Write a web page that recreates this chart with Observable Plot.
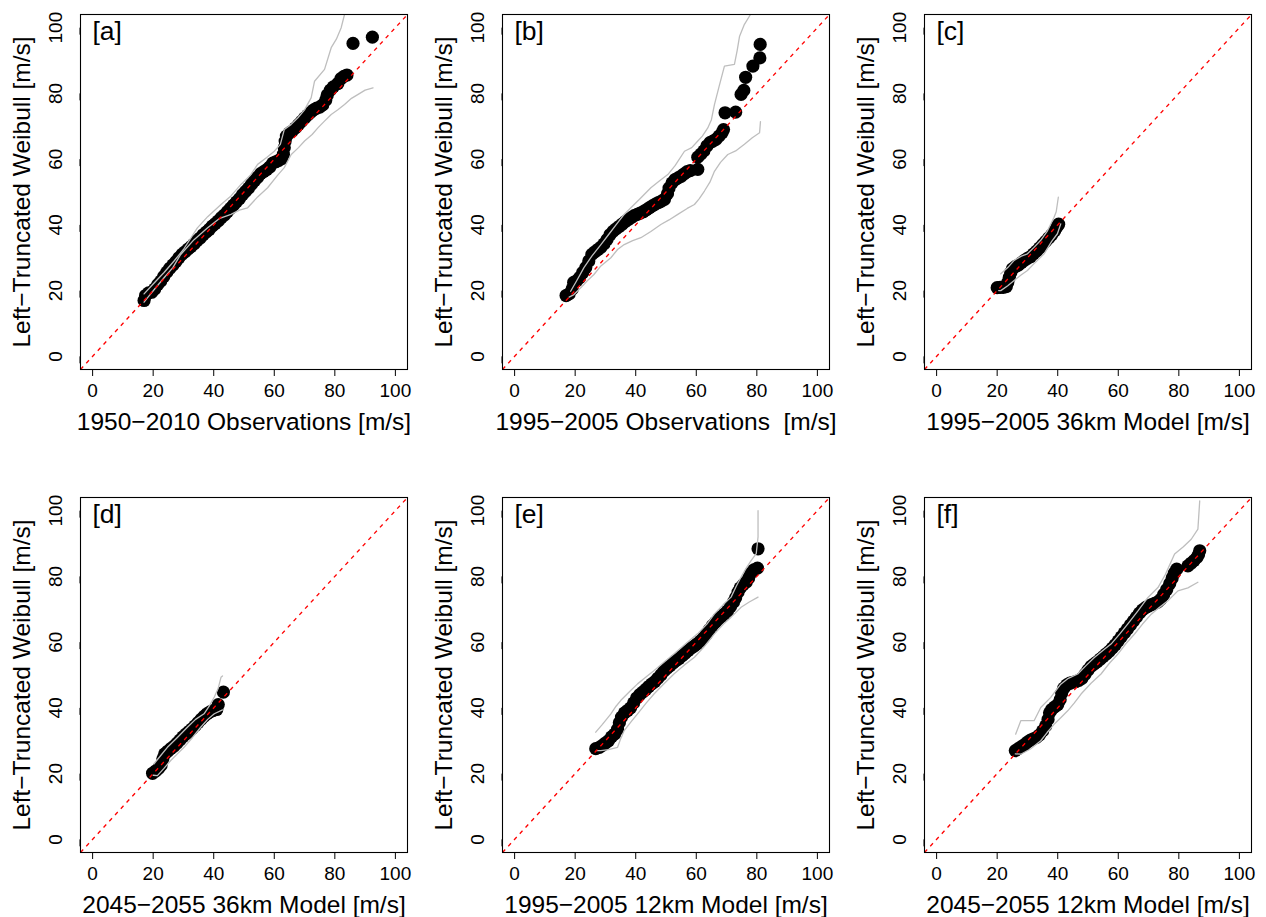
<!DOCTYPE html>
<html><head><meta charset="utf-8">
<script src="https://cdn.jsdelivr.net/npm/d3@7"></script>
<script src="https://cdn.jsdelivr.net/npm/@observablehq/plot@0.6"></script>
<style>
body{margin:0;background:#fff;}
#wrap{position:relative;width:1266px;height:917px;background:#fff;}
.panel{position:absolute;}
</style></head><body><div id="wrap"></div>
<script>
// ---- text ----
const panelLabels = ["[a]", "[b]", "[c]", "[d]", "[e]", "[f]"];
const xTitles = [
  "1950\u22122010 Observations [m/s]",
  "1995\u22122005 Observations  [m/s]",
  "1995\u22122005 36km Model [m/s]",
  "2045\u22122055 36km Model [m/s]",
  "1995\u22122005 12km Model [m/s]",
  "2045\u22122055 12km Model [m/s]"
];
const yTitle = "Left\u2212Truncated Weibull [m/s]";
const tickValues = [0, 20, 40, 60, 80, 100];
const axisDomain = [-4, 104];

// ---- panel a: 1950-2010 observations ----
const aPoints = [[17,17],[17.5,18.5],[18.5,19.3],[19.5,19.5],[20.5,20.5],[21.5,21.8],[22.5,22.9],[23.5,24.3],[24.5,25.6],[25.5,26.8],[26.5,27.8],[27.5,28.8],[28.5,30],[29.5,31],[30.5,31.8],[31.5,32.6],[32.5,33.4],[33.5,34.2],[34.5,35.2],[35.5,36],[36.5,37],[37.5,37.8],[38.5,38.6],[39.5,39.6],[40.5,40.4],[41.5,41.2],[42.5,42.2],[43.5,43],[44.5,44],[45.5,45],[46.5,46],[47.5,47],[48.5,48],[49.5,49.2],[50.5,50.2],[51.5,51.2],[52.5,52.4],[53.5,53.5],[54.5,54.5],[55.5,55.6],[56.5,56.2],[57.5,56.8],[58.5,57.6],[59.5,58.8],[60.5,59.2],[61.5,59.6],[62.5,60.2],[63,61.5],[63.3,63.5],[63.6,65.5],[64,67],[65,68],[66,68.6],[67,69.5],[68,70.5],[69,71.5],[70,72.5],[71,73.4],[72,74.2],[73,75],[74,75.5],[75,75.8],[76,76.5],[77,78],[77.5,79.5],[78.5,81],[79.5,82],[81,83],[82,84.5],[83,85.2],[84,85.6],[86,95.2],[92.4,97.1]];
const aUpper = [[17,19],[20,22],[23.6,25.5],[26.9,29],[30,32.5],[34.6,39.1],[38,42.5],[42.4,46.2],[45.7,48.8],[49,52.3],[52,55],[54.5,58.4],[57.5,60.5],[60,62.4],[62,64.5],[63.3,69],[65.5,70.5],[67.8,72.6],[70,75],[72.2,78.7],[73.3,83.7],[76.6,87.3],[78.8,93.9],[80.5,96.5],[82.1,100],[83.2,104]];
const aLower = [[17,16.5],[18.1,17.8],[20.5,20.5],[23.6,23.9],[26.5,27],[29.1,31],[33.5,35.5],[38,39.1],[42,42],[45.7,43.2],[48.5,44.5],[51.2,45.2],[54.5,48.5],[57.8,51.3],[61,55],[63.3,57.4],[65.6,61.4],[68,63.5],[70,65.5],[72.5,67.5],[74.4,69.5],[76.5,71.5],[78.8,73.6],[81,75],[83.2,76.6],[85.5,78.5],[87.7,79.7],[90,81],[92.6,81.7]];

// ---- panel b: 1995-2005 observations ----
const bPoints = [[17,18.5],[18,19],[19,20.5],[19.5,22.5],[20.5,23],[21.5,24],[22.5,25.5],[23.5,27],[24.5,29],[25.5,31],[26.5,31.8],[27.5,32.5],[28.5,33.2],[29.5,34.2],[30.5,35.5],[31.5,37],[32.5,38],[33.5,38.8],[34.5,39.5],[35.5,40.2],[36.5,41],[37.5,41.6],[38.5,42.2],[39.5,42.8],[40.5,43.2],[41.5,43.6],[42.5,44],[43.5,44.6],[44.5,45.2],[45.5,45.8],[46.5,46.3],[47.5,46.8],[48.5,47.2],[49.5,47.8],[50.5,49.5],[51,51.2],[52,52.8],[53,53.8],[54,54.3],[55,54.8],[56,55.5],[57,56.2],[58,56.5],[60.5,56.9],[60.5,60.6],[61.5,61.5],[62.5,62.5],[63.5,64],[64.5,65],[65.5,65.5],[66.5,66],[67.5,67],[68.5,68],[69,69],[69.5,74.1],[73,74.3],[74.8,79.7],[75.7,80.9],[76.3,84.9],[78.7,88.3],[81,90.8],[81.1,94.9]];
const bUpper = [[18.5,19.8],[20.5,23],[22.9,27],[25.5,30.5],[28.5,34],[31,37],[34,40.6],[36,43],[38.4,45.2],[41.5,48],[45,51.3],[48,53.5],[50.6,55.3],[53,58],[56.1,62.4],[58.5,63.5],[60.5,65.5],[62,67],[63.8,69.5],[65,72],[66,76.6],[67.5,82],[69.3,88.3],[72.6,88.8],[73.5,93],[74.3,97.4],[75.9,101],[77.9,104]];
const bLower = [[18,18],[19.6,18.8],[22,21],[24,23],[26.2,24.9],[28.5,27.5],[31.8,30],[34,32.5],[36.2,34],[39,35.2],[41.7,36.1],[45,38],[48.3,40.1],[51,41.5],[53.9,43.2],[57,45],[59.4,46.2],[61,48],[62.7,50.3],[64.5,53],[66,56.3],[68,59],[70.4,61.4],[73,62.5],[75.9,64.5],[78.5,66.5],[80.9,68],[81.2,71.4]];

// ---- panel c: 1995-2005 36km model ----
const cPoints = [[20,20.9],[21,21],[22,21],[23,21.2],[23.5,22.5],[24,24],[24.5,25.5],[25,26.6],[26,27.3],[27,27.8],[28,28.5],[29,29.2],[30,29.8],[31,30.3],[32,31.2],[33,32],[34,33],[35,34],[36,35],[37,36],[38,37],[39,38.2],[39.8,39.5],[40.3,40.2]];
const cUpper = [[21.2,25.1],[23.5,27],[25.6,29.2],[28,30.5],[30,31.2],[32,33],[34.4,35.3],[36.5,38],[38.8,42.3],[39.5,44],[40.2,48.4]];
const cLower = [[20.5,20],[21.2,20],[23.5,21.5],[25.6,23.1],[28,24.8],[30,26.1],[32.5,28.5],[35.5,31.2],[38,35],[39.9,37.3],[41,40.3]];

// ---- panel d: 2045-2055 36km model ----
const dPoints = [[19.8,20.1],[20.8,20.8],[21.8,21.6],[22.6,22.5],[23.2,24.5],[23.8,26],[24.8,26.8],[25.8,27.6],[26.8,28.3],[27.8,29.2],[28.8,30.2],[29.8,31.2],[30.8,32],[31.8,32.8],[32.8,33.6],[33.8,34.5],[34.8,35.5],[35.8,36.5],[36.8,37.4],[37.8,38.2],[38.8,38.8],[39.8,39.2],[41,39.5],[41.5,41],[43.2,44.8]];
const dUpper = [[20.3,23],[22.5,25.5],[24.7,28],[28,31],[31.3,34.1],[34,36.5],[36.8,38.2],[38.5,40.5],[40.2,43.3],[41.5,46],[42.4,49.3],[42.9,49.7]];
const dLower = [[20,19.5],[21.4,19.4],[23.5,21.5],[25.8,24],[28,26],[30.2,28],[33,31],[35.7,34.1],[38,36.5],[40.2,38.2],[42.9,39.4]];

// ---- panel e: 1995-2005 12km model ----
const ePoints = [[26.8,27.6],[28,28],[29,28.6],[30,29.3],[31,30],[32,31.2],[33,32],[34,33.5],[34.6,35.5],[35.3,37.2],[36.3,38.5],[37.3,39.2],[38.3,40],[39.3,41.5],[40.3,43],[41.3,44],[42.3,44.8],[43.3,45.6],[44.3,46.5],[45.3,47.3],[46.3,48],[47.3,49],[48.3,50],[49.3,51.2],[50.3,52],[51.3,52.8],[52.3,53.6],[53.3,54.4],[54.3,55],[55.3,55.8],[56.3,56.6],[57.3,57.4],[58.3,58.2],[59.3,58.8],[60.3,59.5],[61.3,60.3],[62.3,61.2],[63.3,62.4],[64.3,63.8],[65.3,65],[66.3,66],[67.3,67],[68.3,67.8],[69.3,68.6],[70.3,69.5],[71.3,70.8],[72.3,72.2],[73,73.5],[73.8,75.2],[74.5,76.5],[75.5,77.5],[76.5,78.3],[77.3,79.5],[78,81],[79,82],[80.2,82.5],[80.4,88.4]];
const eUpper = [[26.8,32.6],[29,35],[31.8,38.2],[33.5,40.5],[35.1,42.3],[38,45],[40.6,47.3],[43.5,49.5],[46.1,51.4],[49.5,54],[52.7,56.5],[56.5,59.5],[60.5,62.6],[63.5,65.5],[66,68.6],[69,71.5],[71.5,73.7],[73.2,77],[74.8,79.8],[76.5,82.5],[78.1,84.8],[79.8,86.9],[80.4,92],[80.4,100]];
const eLower = [[27,27],[28.5,27],[31,27.3],[34,28],[35,30.5],[36.2,33.1],[38.5,35.8],[40.6,38.2],[43.5,41.5],[46.1,44.3],[49.5,47.5],[52.7,50.4],[56,53],[59.4,55.4],[62.5,58.5],[66,62.5],[69,65.5],[71.5,67.6],[74.8,70.6],[77.5,72.2],[80.4,73.7]];

// ---- panel f: 2045-2055 12km model ----
const fPoints = [[26,27],[27,27.6],[28,28.2],[29,28.8],[30,29.6],[31,30.2],[32,30.6],[33,31],[34,31.8],[35,33],[36,34.5],[36.8,36.5],[37.3,38.5],[38,39.5],[39,40.3],[40,41],[40.8,42.5],[41.3,44.5],[42,46],[43,47],[44,47.5],[45,47.8],[46,48],[47,48.4],[48,49],[49,50.2],[50,51.5],[51,52.6],[52,53.3],[53,54],[54,54.8],[55,55.6],[56,56.4],[57,57.2],[58,58.2],[59,59.2],[60,60.4],[61,61.6],[62,62.8],[63,64],[64,65.2],[65,66.4],[66,67.6],[67,68.8],[68,69.8],[69,70.5],[70,71],[71,71.4],[72,71.8],[73,72.2],[74,73],[75,74.5],[76,76],[77,77.8],[77.8,79.5],[78.5,81],[79.3,82.2],[83,83.2],[84,84],[85,84.8],[86,85.8],[86.5,86.6],[86.9,87.8]];
const fUpper = [[26.1,32],[27.8,36.1],[30,36.1],[32.2,36.1],[34.4,40.1],[37.7,43.2],[41,47.2],[43.5,49],[46.6,50.3],[49.5,53],[52.1,55.3],[55,57.5],[57.6,59.4],[60.5,62.5],[63.1,65.5],[66.5,69.5],[69.8,73.6],[73.1,76.6],[75.5,80.5],[78.6,86.8],[81.5,89],[84.1,91.3],[86.3,94.4],[86.9,103]];
const fLower = [[26,26],[27.8,25.9],[31,27.5],[34.4,30],[36.5,32.5],[38.8,35],[41,37],[43.3,39.1],[45.5,41.5],[47.7,44.2],[51,47.5],[54.3,50.3],[57,53.5],[59.8,56.3],[62.5,59.5],[65.3,62.4],[68,65.5],[70.9,68.5],[73.5,70.5],[76.4,72.6],[79.7,75.6],[83,76.5],[86.3,78.2]];

const panels = [
  {points: aPoints, upper: aUpper, lower: aLower},
  {points: bPoints, upper: bUpper, lower: bLower},
  {points: cPoints, upper: cUpper, lower: cLower},
  {points: dPoints, upper: dUpper, lower: dLower},
  {points: ePoints, upper: eUpper, lower: eLower},
  {points: fPoints, upper: fUpper, lower: fLower}
];

const FONT = "'Liberation Sans', Arial, Helvetica, sans-serif";
const wrap = document.getElementById("wrap");

panels.forEach((p, i) => {
  const row = Math.floor(i / 3), col = i % 3;
  const H = row === 0 ? 458 : 459;
  const chart = Plot.plot({
    width: 422,
    height: H,
    marginLeft: 80,
    marginRight: 15,
    marginTop: row === 0 ? 14 : 39,
    marginBottom: row === 0 ? 89 : 65,
    style: {fontFamily: FONT, fontSize: "19px", background: "white", color: "black", overflow: "visible"},
    x: {domain: axisDomain},
    y: {domain: axisDomain},
    marks: [
      Plot.dot(p.points, {x: d => d[0], y: d => d[1], r: 6.6, fill: "black", stroke: "none"}),
      Plot.line(p.upper, {x: d => d[0], y: d => d[1], stroke: "#bebebe", strokeWidth: 1.3, clip: true}),
      Plot.line(p.lower, {x: d => d[0], y: d => d[1], stroke: "#bebebe", strokeWidth: 1.3, clip: true}),
      Plot.link([axisDomain], {x1: d => d[0], y1: d => d[0], x2: d => d[1], y2: d => d[1], stroke: "#ff0000", strokeWidth: 1.3, strokeDasharray: "4,4.5"}),
      Plot.frame({stroke: "black", strokeWidth: 1.1}),
      Plot.axisX({ticks: tickValues, tickSize: 7, tickPadding: 7, tickFormat: d => String(d), label: null, fontSize: 19}),
      Plot.axisY({ticks: tickValues, tickSize: 7, tickPadding: 18, tickFormat: d => String(d), rotate: -90, textAnchor: "middle", label: null, fontSize: 19}),
      Plot.text([xTitles[i]], {text: d => d, frameAnchor: "bottom", dy: 53, fontSize: 24.5, lineAnchor: "middle"}),
      Plot.text([yTitle], {text: d => d, frameAnchor: "left", dx: -58, rotate: -90, fontSize: 24.5, lineAnchor: "middle", textAnchor: "middle"}),
      Plot.text([panelLabels[i]], {text: d => d, frameAnchor: "top-left", dx: 12, dy: 7, fontSize: 26.5, textAnchor: "start", lineAnchor: "top"})
    ]
  });
  const div = document.createElement("div");
  div.className = "panel";
  div.style.left = (col * 422) + "px";
  div.style.top = (row === 0 ? 0 : 458) + "px";
  div.appendChild(chart);
  wrap.appendChild(div);
});
</script></body></html>
